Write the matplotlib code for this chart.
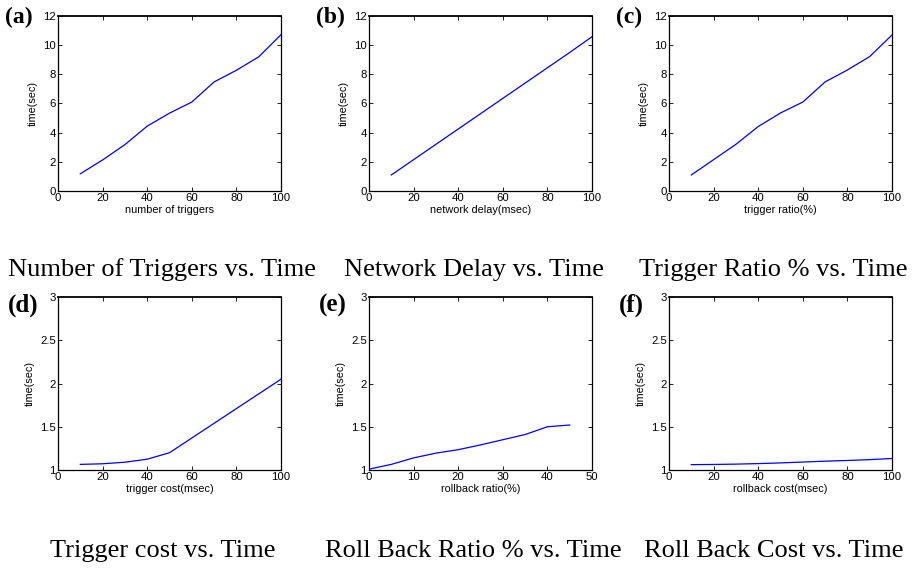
import numpy as np
import matplotlib.pyplot as plt

# dati
trig_n = [10, 20, 30, 40, 50, 60, 70, 80, 90, 100]
trig_time = [1.18, 2.13, 3.18, 4.45, 5.34, 6.1, 7.48, 8.28, 9.2, 10.72]

delay_ms = [10, 20, 30, 40, 50, 60, 70, 80, 90, 100]
delay_time = [1.1, 2.15, 3.2, 4.25, 5.3, 6.35, 7.4, 8.45, 9.5, 10.58]

ratio_pct = [10, 20, 30, 40, 50, 60, 70, 80, 90, 100]
ratio_time = [1.1, 2.15, 3.2, 4.42, 5.35, 6.1, 7.48, 8.3, 9.22, 10.7]

tcost_ms = [10, 20, 30, 40, 50, 60, 70, 80, 90, 100]
tcost_time = [1.065, 1.072, 1.09, 1.125, 1.2, 1.37, 1.54, 1.71, 1.88, 2.05]

rb_ratio = [0, 5, 10, 15, 20, 25, 30, 35, 40, 45]
rb_ratio_time = [1.01, 1.065, 1.14, 1.195, 1.235, 1.29, 1.35, 1.41, 1.5, 1.52]

rb_cost = [10, 20, 30, 40, 50, 60, 70, 80, 90, 100]
rb_cost_time = [1.062, 1.064, 1.068, 1.074, 1.082, 1.092, 1.102, 1.11, 1.12, 1.133]

panels = [
    ("(a)", trig_n, trig_time, "number of triggers", "Number of Triggers vs. Time", (0, 100), (0, 12)),
    ("(b)", delay_ms, delay_time, "network delay(msec)", "Network Delay vs. Time", (0, 100), (0, 12)),
    ("(c)", ratio_pct, ratio_time, "trigger ratio(%)", "Trigger Ratio % vs. Time", (0, 100), (0, 12)),
    ("(d)", tcost_ms, tcost_time, "trigger cost(msec)", "Trigger cost vs. Time", (0, 100), (1, 3)),
    ("(e)", rb_ratio, rb_ratio_time, "rollback ratio(%)", "Roll Back Ratio % vs. Time", (0, 50), (1, 3)),
    ("(f)", rb_cost, rb_cost_time, "rollback cost(msec)", "Roll Back Cost vs. Time", (0, 100), (1, 3)),
]

plt.rcParams['font.family'] = ['Liberation Sans', 'DejaVu Sans']

W, H = 917, 570
fig = plt.figure(figsize=(W / 100, H / 100), dpi=100)

lefts = [58, 369, 669]
width = 223
rows = [(16, 191), (297, 470)]
title_y = [270, 551]
tag_dy = [1, 8]
tag_dx = [53, 50]
tag_size = [17, 18]

for i, (tag, x, y, xlab, title, xl, yl) in enumerate(panels):
    r, c = divmod(i, 3)
    top, bot = rows[r]
    ax = fig.add_axes([lefts[c] / W, 1 - bot / H, width / W, (bot - top) / H])
    ax.plot(x, y, color=(0, 0, 1), lw=0.9)
    ax.set_xlim(*xl)
    ax.set_ylim(*yl)
    if yl[1] == 12:
        ax.set_yticks(np.arange(0, 13, 2))
    else:
        ax.set_yticks([1, 1.5, 2, 2.5, 3])
        ax.set_yticklabels(["1", "1.5", "2", "2.5", "3"])
    ax.tick_params(direction="in", top=True, right=True, labelsize=8.2, length=3, pad=1.5, width=0.6)
    ax.set_xlabel(xlab, fontsize=7.8, labelpad=1.5)
    ax.set_ylabel("time(sec)", fontsize=7.8, labelpad=4)
    for s in ax.spines.values():
        s.set_linewidth(0.9)
    ax.spines["top"].set_linewidth(1.3)
    # etichetta del pannello e titolo sotto
    fig.text((lefts[c] - tag_dx[r]) / W, 1 - (top + tag_dy[r]) / H, tag, family="Liberation Serif",
             fontweight="bold", fontsize=tag_size[r], va="center", ha="left")
    fig.text((lefts[c] + width / 2 - 7) / W, 1 - title_y[r] / H, title, family="Liberation Serif",
             fontsize=19, ha="center", va="center")

fig.savefig("out.png", dpi=100)
